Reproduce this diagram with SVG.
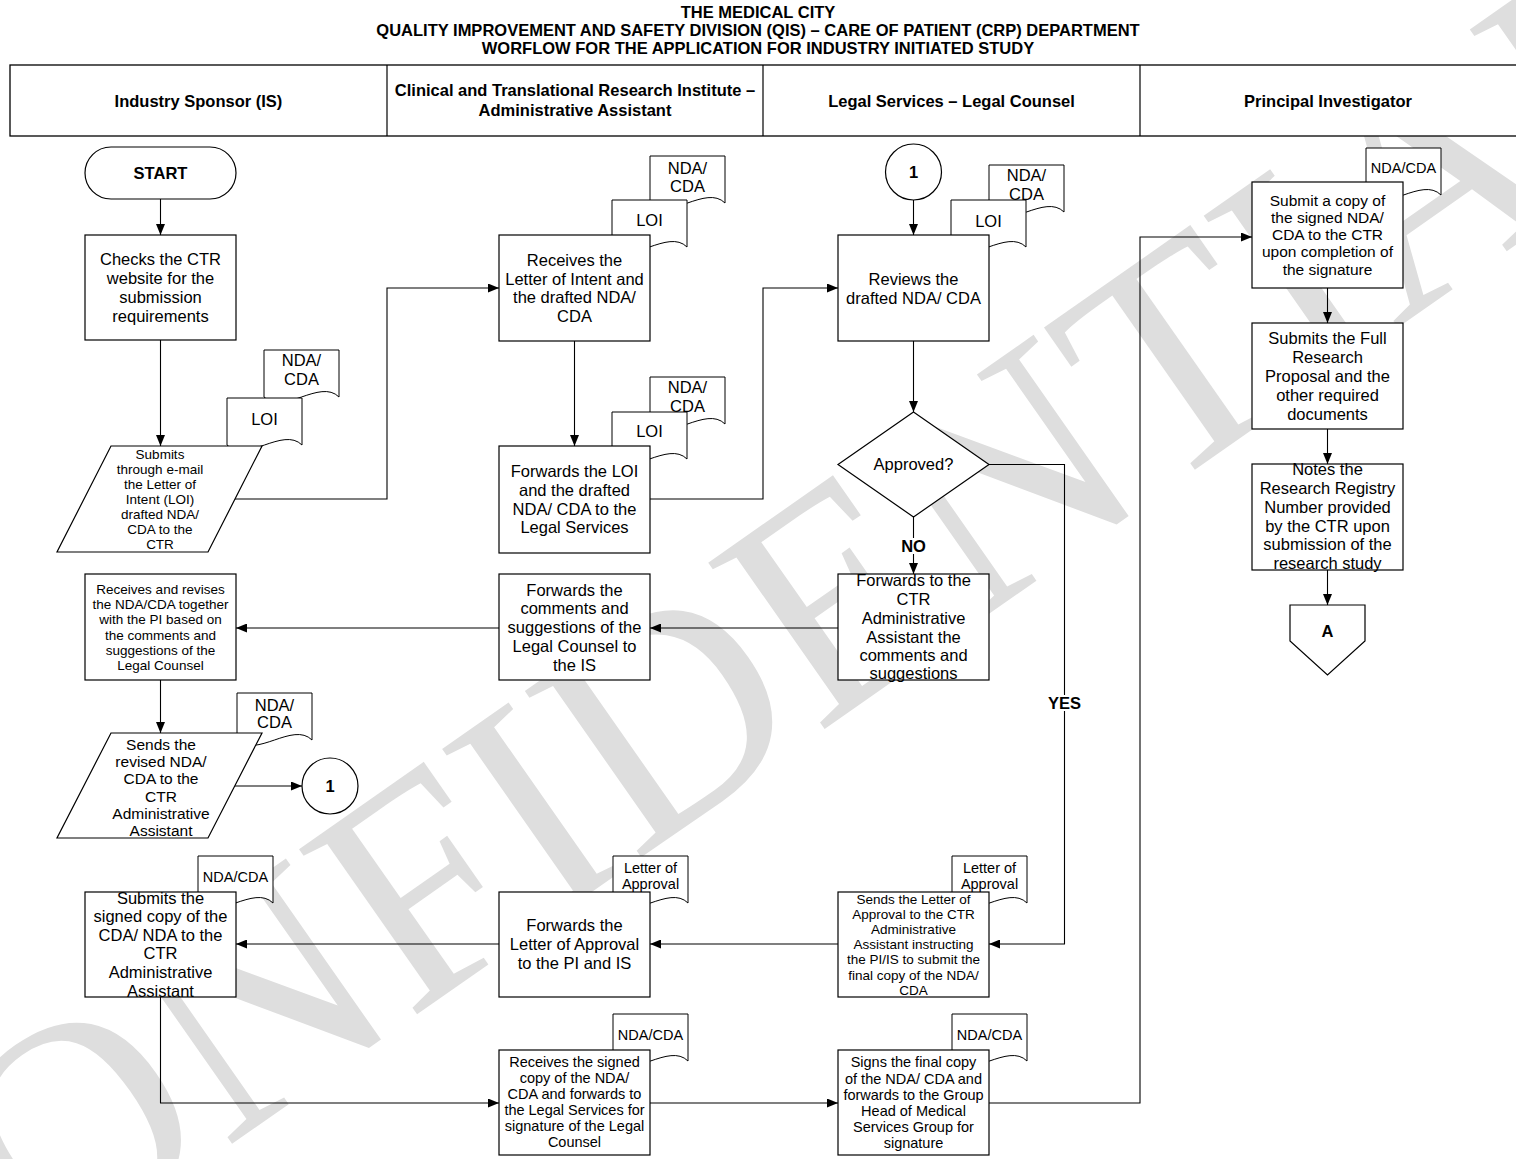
<svg xmlns="http://www.w3.org/2000/svg" width="1516" height="1159" viewBox="0 0 1516 1159">
<defs>
<marker id="arr" markerWidth="11" markerHeight="9" refX="11" refY="4.5" orient="auto" markerUnits="userSpaceOnUse"><path d="M0,0 L11,4.5 L0,9 z" fill="#000"/></marker>
<style>
.t{font-family:"Liberation Sans",Arial,sans-serif;fill:#000;text-anchor:middle}
.b{font-weight:bold}
.s165{font-size:16.5px}
.s155{font-size:15.5px}
.s145{font-size:14.5px}
.s135{font-size:13.5px}
.box{fill:#fff;stroke:#000;stroke-width:1.2}
.doc{fill:#fff;stroke:#000;stroke-width:1}
.ln{fill:none;stroke:#000;stroke-width:1.1}
.wm{font-family:"Liberation Serif","Times New Roman",serif;font-size:310px;fill:#dedede}
</style>
</defs>
<rect x="0" y="0" width="1516" height="1159" fill="#fff"/>
<text class="wm" x="-128" y="1396" transform="rotate(-35 -128 1396)">CONFIDENTIAL</text>

<g id="title" class="t b s165">
<text x="758" y="18">THE MEDICAL CITY</text>
<text x="758" y="36">QUALITY IMPROVEMENT AND SAFETY DIVISION (QIS) – CARE OF PATIENT (CRP) DEPARTMENT</text>
<text x="758" y="54">WORFLOW FOR THE APPLICATION FOR INDUSTRY INITIATED STUDY</text>
</g>

<g id="lanes">
<rect x="10" y="65" width="1520" height="71" fill="#fff" stroke="#000" stroke-width="1.3"/>
<line x1="387" y1="65" x2="387" y2="136" stroke="#000" stroke-width="1.2"/>
<line x1="763" y1="65" x2="763" y2="136" stroke="#000" stroke-width="1.2"/>
<line x1="1140" y1="65" x2="1140" y2="136" stroke="#000" stroke-width="1.2"/>
<g class="t b s165">
<text x="198.5" y="107">Industry Sponsor (IS)</text>
<text x="575" y="96">Clinical and Translational Research Institute –</text>
<text x="575" y="116">Administrative Assistant</text>
<text x="951.5" y="107">Legal Services – Legal Counsel</text>
<text x="1328" y="107">Principal Investigator</text>
</g>
</g>

<g id="connectors" class="ln">
<polyline points="160.5,199 160.5,235" marker-end="url(#arr)"/>
<polyline points="160.5,340 160.5,446" marker-end="url(#arr)"/>
<polyline points="235,499 387,499 387,288 499,288" marker-end="url(#arr)"/>
<polyline points="574.5,341 574.5,446" marker-end="url(#arr)"/>
<polyline points="650,499 763,499 763,288 838,288" marker-end="url(#arr)"/>
<polyline points="913.5,200 913.5,235" marker-end="url(#arr)"/>
<polyline points="913.5,341 913.5,412" marker-end="url(#arr)"/>
<polyline points="913.5,517 913.5,574" marker-end="url(#arr)"/>
<polyline points="989,464.5 1064.5,464.5 1064.5,944 989,944" marker-end="url(#arr)"/>
<polyline points="838,628 650,628" marker-end="url(#arr)"/>
<polyline points="499,628 236,628" marker-end="url(#arr)"/>
<polyline points="160.5,680 160.5,733" marker-end="url(#arr)"/>
<polyline points="235,786 302,786" marker-end="url(#arr)"/>
<polyline points="838,944 650,944" marker-end="url(#arr)"/>
<polyline points="499,944 236,944" marker-end="url(#arr)"/>
<polyline points="160.5,997 160.5,1103 499,1103" marker-end="url(#arr)"/>
<polyline points="650,1103 838,1103" marker-end="url(#arr)"/>
<polyline points="989,1103 1140,1103 1140,237 1252,237" marker-end="url(#arr)"/>
<polyline points="1327.5,288 1327.5,323" marker-end="url(#arr)"/>
<polyline points="1327.5,429 1327.5,464" marker-end="url(#arr)"/>
<polyline points="1327.5,570 1327.5,605" marker-end="url(#arr)"/>
<rect x="899" y="538" width="29" height="16" fill="#fff" stroke="none"/>
<text class="t b s165" x="913.5" y="552" stroke="none">NO</text>
<rect x="1046" y="695" width="37" height="16" fill="#fff" stroke="none"/>
<text class="t b s165" x="1064.5" y="709" stroke="none">YES</text>
</g>

<g id="documents">
<g id="doc-is-nda1"><path class="doc" d="M264,350 H339 V397 C320,378 283,416 264,397 Z"/><text class="t s165" x="301.5" y="366">NDA/</text><text class="t s165" x="301.5" y="385">CDA</text></g>
<g id="doc-is-loi1"><path class="doc" d="M227,398 H302 V445 C283,426 246,464 227,445 Z"/><text class="t s165" x="264.5" y="425">LOI</text></g>
<g id="doc-ctr-nda1"><path class="doc" d="M650,156 H725 V203 C706,184 669,222 650,203 Z"/><text class="t s165" x="687.5" y="174">NDA/</text><text class="t s165" x="687.5" y="192">CDA</text></g>
<g id="doc-ctr-loi1"><path class="doc" d="M612,200 H687 V247 C668,228 631,266 612,247 Z"/><text class="t s165" x="649.5" y="226">LOI</text></g>
<g id="doc-ctr-nda2"><path class="doc" d="M650,377 H725 V424 C706,405 669,443 650,424 Z"/><text class="t s165" x="687.5" y="393">NDA/</text><text class="t s165" x="687.5" y="412">CDA</text></g>
<g id="doc-ctr-loi2"><path class="doc" d="M612,412 H687 V459 C668,440 631,478 612,459 Z"/><text class="t s165" x="649.5" y="437">LOI</text></g>
<g id="doc-legal-nda1"><path class="doc" d="M989,165 H1064 V212 C1045,193 1008,231 989,212 Z"/><text class="t s165" x="1026.5" y="181">NDA/</text><text class="t s165" x="1026.5" y="200">CDA</text></g>
<g id="doc-legal-loi1"><path class="doc" d="M951,200 H1026 V247 C1007,228 970,266 951,247 Z"/><text class="t s165" x="988.5" y="227">LOI</text></g>
<g id="doc-is-nda2"><path class="doc" d="M237,693 H312 V740 C293,721 256,759 237,740 Z"/><text class="t s165" x="274.5" y="711">NDA/</text><text class="t s165" x="274.5" y="728">CDA</text></g>
<g id="doc-is-nda3"><path class="doc" d="M198,856 H273 V903 C254,884 217,922 198,903 Z"/><text class="t s145" x="235.5" y="882">NDA/CDA</text></g>
<g id="doc-ctr-loa"><path class="doc" d="M613,856 H688 V903 C669,884 632,922 613,903 Z"/><text class="t s145" x="650.5" y="873">Letter of</text><text class="t s145" x="650.5" y="889">Approval</text></g>
<g id="doc-ctr-nda3"><path class="doc" d="M613,1014 H688 V1061 C669,1042 632,1080 613,1061 Z"/><text class="t s145" x="650.5" y="1040">NDA/CDA</text></g>
<g id="doc-legal-loa"><path class="doc" d="M952,856 H1027 V903 C1008,884 971,922 952,903 Z"/><text class="t s145" x="989.5" y="873">Letter of</text><text class="t s145" x="989.5" y="889">Approval</text></g>
<g id="doc-legal-nda2"><path class="doc" d="M952,1014 H1027 V1061 C1008,1042 971,1080 952,1061 Z"/><text class="t s145" x="989.5" y="1040">NDA/CDA</text></g>
<g id="doc-pi-nda"><path class="doc" d="M1366,148 H1441 V195 C1422,176 1385,214 1366,195 Z"/><text class="t s145" x="1403.5" y="172.5">NDA/CDA</text></g>
</g>

<g id="n-start"><rect class="box" x="85" y="147" width="151" height="52" rx="26" ry="26"/><text class="t b s165" x="160.5" y="179">START</text></g>
<g id="n-checks"><rect class="box" x="85" y="235" width="151" height="105"/>
<text class="t s165" x="160.5" y="265">Checks the CTR</text><text class="t s165" x="160.5" y="284">website for the</text><text class="t s165" x="160.5" y="303">submission</text><text class="t s165" x="160.5" y="322">requirements</text></g>
<g id="n-submits"><polygon class="box" points="111,446 262,446 208,552 57,552"/>
<text class="t s135" x="160" y="459">Submits</text><text class="t s135" x="160" y="474">through e-mail</text><text class="t s135" x="160" y="489">the Letter of</text><text class="t s135" x="160" y="504">Intent (LOI)</text><text class="t s135" x="160" y="519">drafted NDA/</text><text class="t s135" x="160" y="534">CDA to the</text><text class="t s135" x="160" y="549">CTR</text></g>
<g id="n-receives"><rect class="box" x="499" y="235" width="151" height="106"/>
<text class="t s165" x="574.5" y="266">Receives the</text><text class="t s165" x="574.5" y="284.5">Letter of Intent and</text><text class="t s165" x="574.5" y="303">the drafted NDA/</text><text class="t s165" x="574.5" y="321.5">CDA</text></g>
<g id="n-forwards-loi"><rect class="box" x="499" y="446" width="151" height="107"/>
<text class="t s165" x="574.5" y="477">Forwards the LOI</text><text class="t s165" x="574.5" y="496">and the drafted</text><text class="t s165" x="574.5" y="514.5">NDA/ CDA to the</text><text class="t s165" x="574.5" y="533">Legal Services</text></g>
<g id="n-conn1-top"><circle class="box" cx="913.5" cy="172" r="28"/><text class="t b s165" x="913.5" y="178">1</text></g>
<g id="n-reviews"><rect class="box" x="838" y="235" width="151" height="106"/>
<text class="t s165" x="913.5" y="285">Reviews the</text><text class="t s165" x="913.5" y="304">drafted NDA/ CDA</text></g>
<g id="n-approved"><polygon class="box" points="913.5,412 989,464.5 913.5,517 838,464.5"/><text class="t s165" x="913.5" y="470">Approved?</text></g>
<g id="n-forwards-ctr"><rect class="box" x="838" y="574" width="151" height="106"/>
<text class="t s165" x="913.5" y="586">Forwards to the</text><text class="t s165" x="913.5" y="605">CTR</text><text class="t s165" x="913.5" y="624">Administrative</text><text class="t s165" x="913.5" y="642.5">Assistant the</text><text class="t s165" x="913.5" y="661">comments and</text><text class="t s165" x="913.5" y="679">suggestions</text></g>
<g id="n-forwards-comments"><rect class="box" x="499" y="574" width="151" height="106"/>
<text class="t s165" x="574.5" y="596">Forwards the</text><text class="t s165" x="574.5" y="613.5">comments and</text><text class="t s165" x="574.5" y="632.5">suggestions of the</text><text class="t s165" x="574.5" y="651.5">Legal Counsel to</text><text class="t s165" x="574.5" y="671">the IS</text></g>
<g id="n-receives-revises"><rect class="box" x="85" y="574" width="151" height="106"/>
<text class="t s135" x="160.5" y="594">Receives and revises</text><text class="t s135" x="160.5" y="609">the NDA/CDA together</text><text class="t s135" x="160.5" y="624">with the PI based on</text><text class="t s135" x="160.5" y="640">the comments and</text><text class="t s135" x="160.5" y="655">suggestions of the</text><text class="t s135" x="160.5" y="670">Legal Counsel</text></g>
<g id="n-sends-revised"><polygon class="box" points="111,733 262,733 208,838 57,838"/>
<text class="t s155" x="161" y="750">Sends the</text><text class="t s155" x="161" y="767">revised NDA/</text><text class="t s155" x="161" y="784">CDA to the</text><text class="t s155" x="161" y="801.5">CTR</text><text class="t s155" x="161" y="819">Administrative</text><text class="t s155" x="161" y="836">Assistant</text></g>
<g id="n-conn1-bottom"><circle class="box" cx="330" cy="786" r="28"/><text class="t b s165" x="330" y="792">1</text></g>
<g id="n-submits-signed"><rect class="box" x="85" y="892" width="151" height="105"/>
<text class="t s165" x="160.5" y="903.5">Submits the</text><text class="t s165" x="160.5" y="922">signed copy of the</text><text class="t s165" x="160.5" y="940.5">CDA/ NDA to the</text><text class="t s165" x="160.5" y="959">CTR</text><text class="t s165" x="160.5" y="977.5">Administrative</text><text class="t s165" x="160.5" y="996.5">Assistant</text></g>
<g id="n-forwards-letter"><rect class="box" x="499" y="892" width="151" height="105"/>
<text class="t s165" x="574.5" y="931">Forwards the</text><text class="t s165" x="574.5" y="950">Letter of Approval</text><text class="t s165" x="574.5" y="969">to the PI and IS</text></g>
<g id="n-sends-letter"><rect class="box" x="838" y="892" width="151" height="105"/>
<text class="t s135" x="913.5" y="904">Sends the Letter of</text><text class="t s135" x="913.5" y="919">Approval to the CTR</text><text class="t s135" x="913.5" y="934">Administrative</text><text class="t s135" x="913.5" y="949">Assistant instructing</text><text class="t s135" x="913.5" y="964">the PI/IS to submit the</text><text class="t s135" x="913.5" y="980">final copy of the NDA/</text><text class="t s135" x="913.5" y="995">CDA</text></g>
<g id="n-receives-signed"><rect class="box" x="499" y="1050" width="151" height="105"/>
<text class="t s145" x="574.5" y="1067">Receives the signed</text><text class="t s145" x="574.5" y="1083">copy of the NDA/</text><text class="t s145" x="574.5" y="1099">CDA and forwards to</text><text class="t s145" x="574.5" y="1115">the Legal Services for</text><text class="t s145" x="574.5" y="1131">signature of the Legal</text><text class="t s145" x="574.5" y="1147">Counsel</text></g>
<g id="n-signs"><rect class="box" x="838" y="1050" width="151" height="105"/>
<text class="t s145" x="913.5" y="1067">Signs the final copy</text><text class="t s145" x="913.5" y="1084">of the NDA/ CDA and</text><text class="t s145" x="913.5" y="1100">forwards to the Group</text><text class="t s145" x="913.5" y="1116">Head of Medical</text><text class="t s145" x="913.5" y="1132">Services Group for</text><text class="t s145" x="913.5" y="1148">signature</text></g>
<g id="n-submit-copy"><rect class="box" x="1252" y="182" width="151" height="106"/>
<text class="t s155" x="1327.5" y="205.5">Submit a copy of</text><text class="t s155" x="1327.5" y="222.5">the signed NDA/</text><text class="t s155" x="1327.5" y="240">CDA to the CTR</text><text class="t s155" x="1327.5" y="257">upon completion of</text><text class="t s155" x="1327.5" y="275">the signature</text></g>
<g id="n-submits-full"><rect class="box" x="1252" y="323" width="151" height="106"/>
<text class="t s165" x="1327.5" y="344">Submits the Full</text><text class="t s165" x="1327.5" y="362.5">Research</text><text class="t s165" x="1327.5" y="381.5">Proposal and the</text><text class="t s165" x="1327.5" y="400.5">other required</text><text class="t s165" x="1327.5" y="419.5">documents</text></g>
<g id="n-notes"><rect class="box" x="1252" y="464" width="151" height="106"/>
<text class="t s165" x="1327.5" y="475">Notes the</text><text class="t s165" x="1327.5" y="494">Research Registry</text><text class="t s165" x="1327.5" y="513">Number provided</text><text class="t s165" x="1327.5" y="531.5">by the CTR upon</text><text class="t s165" x="1327.5" y="550">submission of the</text><text class="t s165" x="1327.5" y="569">research study</text></g>
<g id="n-offpage-a"><polygon class="box" points="1290,605 1365,605 1365,641 1327.5,675 1290,641"/><text class="t b s165" x="1327.5" y="637">A</text></g>
</svg>
